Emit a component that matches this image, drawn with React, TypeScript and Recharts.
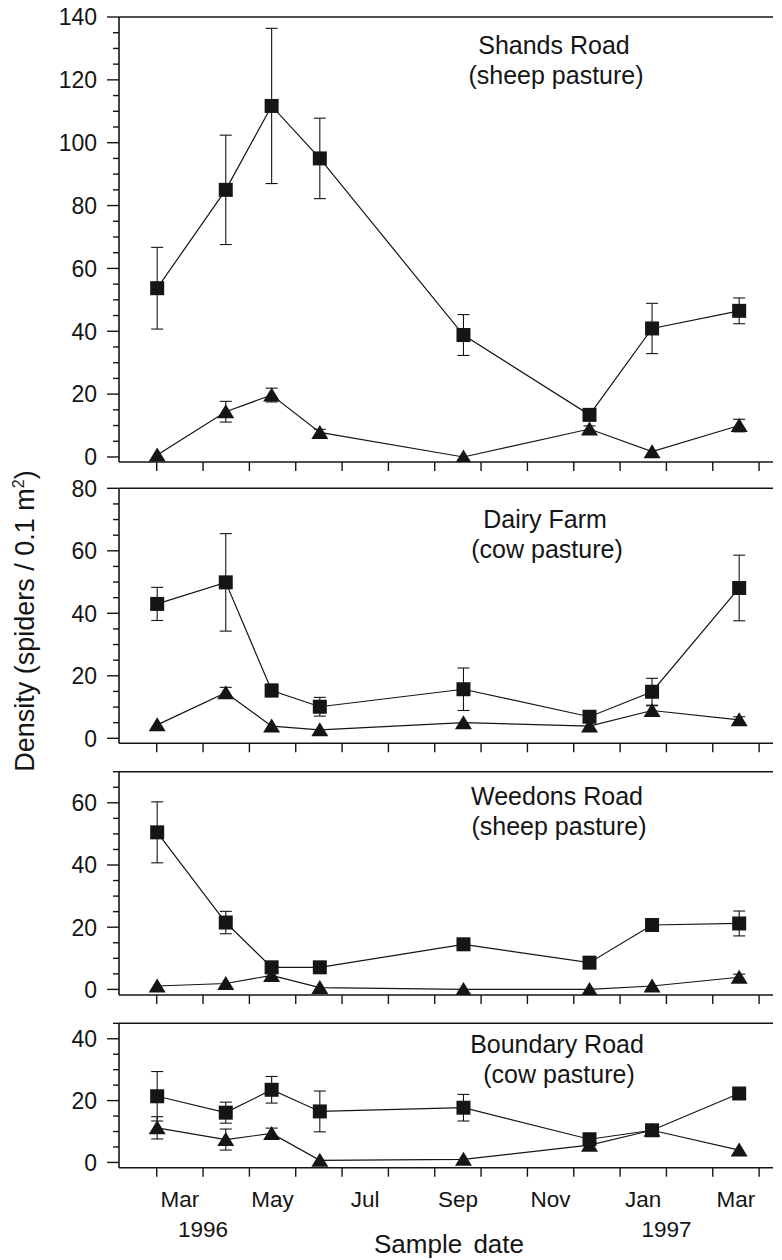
import React from "react";
import { LineChart, Line, XAxis, YAxis, ErrorBar, ReferenceLine } from "recharts";

const FONT = '"Liberation Sans", Arial, Helvetica, sans-serif';
const INK = "#151515";

// sample dates as months since Jan 1 1996 (2 = Mar 1 1996)
const sampleMonth = [2.01, 3.49, 4.48, 5.52, 8.62, 11.34, 12.69, 14.57];

const shandsSquare = [53.7, 85.0, 111.7, 95.0, 38.8, 13.4, 40.9, 46.5];
const shandsSquareSE = [13, 17.4, 24.7, 12.8, 6.5, 1.5, 8, 4.1];
const shandsTriangle = [0.6, 14.4, 19.7, 7.8, 0, 8.9, 1.7, 10.0];
const shandsTriangleSE = [0, 3.3, 2.2, 1, 0, 1, 0, 2];

const dairySquare = [43.0, 49.9, 15.3, 10.1, 15.7, 6.9, 14.9, 48.1];
const dairySquareSE = [5.3, 15.6, 2, 3, 6.8, 1, 4.3, 10.5];
const dairyTriangle = [4.3, 14.6, 3.9, 2.7, 5.0, 3.9, 8.9, 5.9];
const dairyTriangleSE = [0, 1.7, 0, 0, 0, 0, 1.5, 1];

const weedonsSquare = [50.5, 21.5, 7.1, 7.1, 14.5, 8.6, 20.7, 21.2];
const weedonsSquareSE = [9.8, 3.6, 1, 0, 0, 0, 1, 4];
const weedonsTriangle = [1.1, 1.9, 4.5, 0.6, 0, 0, 1.1, 3.9];
const weedonsTriangleSE = [0, 0, 0.8, 0, 0, 0, 0, 1];

const boundarySquare = [21.4, 16.1, 23.5, 16.5, 17.7, 7.5, 10.4, 22.3];
const boundarySquareSE = [8, 3.4, 4.3, 6.6, 4.3, 0, 1.2, 0];
const boundaryTriangle = [11.2, 7.4, 9.4, 0.7, 1.0, 5.6, 10.4, 4.0];
const boundaryTriangleSE = [3.6, 3.4, 1.7, 0, 0, 0, 0, 0];

const monthBoundaries = [2, 3, 4, 5, 6, 7, 8, 9, 10, 11, 12, 13, 14, 15];
const monthLabels = [
  { at: 2.5, text: "Mar" },
  { at: 4.5, text: "May" },
  { at: 6.5, text: "Jul" },
  { at: 8.5, text: "Sep" },
  { at: 10.5, text: "Nov" },
  { at: 12.5, text: "Jan" },
  { at: 14.5, text: "Mar" },
];
const yearLabels = [
  { at: 3, text: "1996" },
  { at: 13, text: "1997" },
];

const shandsTicks = [0, 20, 40, 60, 80, 100, 120, 140];
const dairyTicks = [0, 20, 40, 60, 80];
const weedonsTicks = [0, 20, 40, 60];
const boundaryTicks = [0, 20, 40];
const MINOR_STEP = 5;

type Row = { month: number; sq: number; sqSE: number; tri: number; triSE: number };

function buildRows(sq: number[], sqSE: number[], tri: number[], triSE: number[]): Row[] {
  return sampleMonth.map((m, i) => ({ month: m, sq: sq[i], sqSE: sqSE[i], tri: tri[i], triSE: triSE[i] }));
}

function withMinor(major: number[], top: number): number[] {
  const out: number[] = [];
  for (let v = 0; v <= top + 0.001; v += MINOR_STEP) out.push(v);
  return out.concat(major.filter((m) => !out.includes(m)));
}

type Panel = {
  key: string;
  rows: Row[];
  majorTicks: number[];
  yTop: number;
  yBottom: number;
  divTop: number;
  divHeight: number;
  plotTop: number;
  plotBottom: number;
  title: [string, string];
  titleX: number;
  titleY: number;
  last?: boolean;
};

const panels: Panel[] = [
  {
    key: "shands",
    rows: buildRows(shandsSquare, shandsSquareSE, shandsTriangle, shandsTriangleSE),
    majorTicks: shandsTicks,
    yTop: 140,
    yBottom: -1.6,
    divTop: 0,
    divHeight: 474,
    plotTop: 17,
    plotBottom: 462,
    title: ["Shands Road", "(sheep pasture)"],
    titleX: 554,
    titleY: 54,
  },
  {
    key: "dairy",
    rows: buildRows(dairySquare, dairySquareSE, dairyTriangle, dairyTriangleSE),
    majorTicks: dairyTicks,
    yTop: 80,
    yBottom: -1.6,
    divTop: 474,
    divHeight: 280,
    plotTop: 488.3,
    plotBottom: 743.3,
    title: ["Dairy Farm", "(cow pasture)"],
    titleX: 545,
    titleY: 528,
  },
  {
    key: "weedons",
    rows: buildRows(weedonsSquare, weedonsSquareSE, weedonsTriangle, weedonsTriangleSE),
    majorTicks: weedonsTicks,
    yTop: 70,
    yBottom: -1.8,
    divTop: 754,
    divHeight: 254,
    plotTop: 771.7,
    plotBottom: 995,
    title: ["Weedons Road", "(sheep pasture)"],
    titleX: 557,
    titleY: 805,
  },
  {
    key: "boundary",
    rows: buildRows(boundarySquare, boundarySquareSE, boundaryTriangle, boundaryTriangleSE),
    majorTicks: boundaryTicks,
    yTop: 45,
    yBottom: -1.7,
    divTop: 1008,
    divHeight: 252,
    plotTop: 1023.3,
    plotBottom: 1167.7,
    title: ["Boundary Road", "(cow pasture)"],
    titleX: 557,
    titleY: 1053,
    last: true,
  },
];

const X_DOMAIN: [number, number] = [1.186, 15.3];
const PLOT_LEFT = 119;
const PLOT_RIGHT = 773;
const WIDTH = 782;

function DensityTick(props: any) {
  const { x, y, payload } = props;
  const v = payload.value as number;
  const major = v % 20 === 0;
  return (
    <g>
      <line x1={x - (major ? 12 : 6)} y1={y} x2={x} y2={y} stroke={INK} strokeWidth={1.4} />
      {major && (
        <text x={x - 22} y={y} dy={8.3} textAnchor="end" fontSize={23} fontFamily={FONT} fill={INK}>
          {v}
        </text>
      )}
    </g>
  );
}

function MonthTick(props: any) {
  const { x, y, payload, showLabels } = props;
  const v = payload.value as number;
  const boundary = monthBoundaries.includes(v);
  const month = showLabels ? monthLabels.find((m) => m.at === v) : undefined;
  const year = showLabels ? yearLabels.find((m) => m.at === v) : undefined;
  return (
    <g>
      {boundary && <line x1={x} y1={y} x2={x} y2={y + 9} stroke={INK} strokeWidth={1.4} />}
      {month && (
        <text x={x} y={y + 39} textAnchor="middle" fontSize={22.5} fontFamily={FONT} fill={INK}>
          {month.text}
        </text>
      )}
      {year && (
        <text x={x} y={y + 69} textAnchor="middle" fontSize={22.5} fontFamily={FONT} fill={INK}>
          {year.text}
        </text>
      )}
    </g>
  );
}

const squareDot = (p: any) => {
  if (p.cx == null || p.cy == null) return <g key={p.index} />;
  return <rect key={p.index} x={p.cx - 7} y={p.cy - 7} width={14} height={14} fill={INK} />;
};

const triangleDot = (p: any) => {
  if (p.cx == null || p.cy == null) return <g key={p.index} />;
  const { cx, cy } = p;
  return (
    <polygon key={p.index} points={`${cx},${cy - 7.5} ${cx - 8.5},${cy + 6.5} ${cx + 8.5},${cy + 6.5}`} fill={INK} />
  );
};

function PanelChart({ panel }: { panel: Panel }) {
  const xAxisHeight = panel.last ? 60 : 10;
  const margin = {
    top: panel.plotTop - panel.divTop,
    bottom: panel.divTop + panel.divHeight - panel.plotBottom - xAxisHeight,
    left: PLOT_LEFT - 60,
    right: WIDTH - PLOT_RIGHT,
  };
  const xTicks = panel.last
    ? monthBoundaries.concat(monthLabels.map((m) => m.at)).sort((a, b) => a - b)
    : monthBoundaries;
  return (
    <div style={{ position: "absolute", left: 0, top: panel.divTop, width: WIDTH, height: panel.divHeight }}>
      <LineChart width={WIDTH} height={panel.divHeight} data={panel.rows} margin={margin}>
        <XAxis
          dataKey="month"
          type="number"
          domain={X_DOMAIN}
          allowDataOverflow
          ticks={xTicks}
          interval={0}
          height={xAxisHeight}
          tickSize={0}
          tickMargin={0}
          axisLine={{ stroke: INK, strokeWidth: 1.6 }}
          tick={(p: any) => <MonthTick {...p} showLabels={!!panel.last} />}
        />
        <YAxis
          type="number"
          width={60}
          domain={[panel.yBottom, panel.yTop]}
          allowDataOverflow
          ticks={withMinor(panel.majorTicks, panel.yTop)}
          interval={0}
          tickSize={0}
          tickMargin={0}
          axisLine={{ stroke: INK, strokeWidth: 1.6 }}
          tick={(p: any) => <DensityTick {...p} />}
        />
        <ReferenceLine y={panel.yTop} stroke={INK} strokeWidth={1.6} />
        <Line
          dataKey="tri"
          type="linear"
          stroke={INK}
          strokeWidth={1.2}
          dot={triangleDot}
          activeDot={false}
          isAnimationActive={false}
        >
          <ErrorBar dataKey="triSE" width={6} strokeWidth={1.1} stroke={INK} direction="y" isAnimationActive={false} />
        </Line>
        <Line
          dataKey="sq"
          type="linear"
          stroke={INK}
          strokeWidth={1.2}
          dot={squareDot}
          activeDot={false}
          isAnimationActive={false}
        >
          <ErrorBar dataKey="sqSE" width={6} strokeWidth={1.1} stroke={INK} direction="y" isAnimationActive={false} />
        </Line>
      </LineChart>
    </div>
  );
}

export default function App() {
  return (
    <div style={{ position: "absolute", left: 0, top: 0, width: WIDTH, height: 1260, background: "#fff" }}>
      <style>{".recharts-surface{overflow:visible}"}</style>
      {panels.map((p) => (
        <PanelChart key={p.key} panel={p} />
      ))}
      <svg
        width={WIDTH}
        height={1260}
        style={{ position: "absolute", left: 0, top: 0, pointerEvents: "none" }}
        fontFamily={FONT}
        fill={INK}
      >
        {panels.map((p) => (
          <g key={p.key}>
            <text x={p.titleX} y={p.titleY} textAnchor="middle" fontSize={25}>
              {p.title[0]}
            </text>
            <text x={p.titleX + 2} y={p.titleY + 29.5} textAnchor="middle" fontSize={25}>
              {p.title[1]}
            </text>
          </g>
        ))}
        <text x={449} y={1253} textAnchor="middle" fontSize={26} wordSpacing={4}>
          Sample date
        </text>
        <text x={33.5} y={621} textAnchor="middle" fontSize={27} transform="rotate(-90 33.5 621)">
          Density (spiders / 0.1 m
          <tspan fontSize={16} dy={-10}>
            2
          </tspan>
          <tspan dy={10}>)</tspan>
        </text>
      </svg>
    </div>
  );
}
